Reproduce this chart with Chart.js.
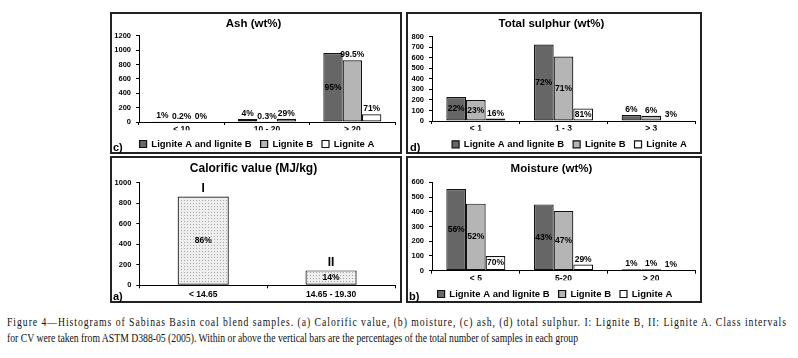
<!DOCTYPE html>
<html>
<head>
<meta charset="utf-8">
<script src="https://cdn.jsdelivr.net/npm/chart.js@4.4.1/dist/chart.umd.min.js"></script>
<style>
  body { margin: 0; background: #fff; width: 798px; height: 358px; position: relative; overflow: hidden; }
  .panel { position: absolute; border: 2px solid #222; box-sizing: border-box; background: #fff; }
  .inner { position: absolute; left: 0; top: 0; overflow: hidden; }
  .inner canvas { display: block; }
  .tag { position: absolute; font: bold 11px "Liberation Sans", Arial, sans-serif; color: #000; line-height: 12px; }
  .cap { position: absolute; left: 7px; font-family: "Liberation Serif", "DejaVu Serif", serif; font-size: 11.5px; white-space: nowrap; color: #111; line-height: 14px; transform-origin: 0 0; }
</style>
</head>
<body>

<div class="panel" style="left:110px; top:12px; width:292px; height:142px;">
  <div class="inner" style="width:288px; height:138px;"><canvas id="ashChart"></canvas></div>
  <div class="tag" style="left:1px; top:127px;">c)</div>
</div>
<div class="panel" style="left:406px; top:12px; width:296px; height:142px;">
  <div class="inner" style="width:292px; height:138px;"><canvas id="sulphurChart"></canvas></div>
  <div class="tag" style="left:2px; top:127px;">d)</div>
</div>
<div class="panel" style="left:110px; top:156px; width:292px; height:147px;">
  <div class="inner" style="width:288px; height:143px;"><canvas id="cvChart"></canvas></div>
  <div class="tag" style="left:1px; top:132px;">a)</div>
</div>
<div class="panel" style="left:406px; top:156px; width:296px; height:147px;">
  <div class="inner" style="width:292px; height:143px;"><canvas id="moistureChart"></canvas></div>
  <div class="tag" style="left:1px; top:132px;">b)</div>
</div>

<div class="cap" id="cap1" style="top:315px;">Figure 4—Histograms of Sabinas Basin coal blend samples. (a) Calorific value, (b) moisture, (c) ash, (d) total sulphur. I: Lignite B, II: Lignite A. Class intervals</div>
<div class="cap" id="cap2" style="top:331px;">for CV were taken from ASTM D388-05 (2005). Within or above the vertical bars are the percentages of the total number of samples in each group</div>

<script>
// series names
const seriesNames = ['Lignite A and lignite B', 'Lignite B', 'Lignite A'];

// Ash (wt%)
const ashCategories = ['< 10', '10 - 20', '> 20'];
const ashAB = [10, 40, 960];
const ashB = [2, 3, 857];
const ashA = [0, 44, 108];
const ashPctAB = ['1%', '4%', '95%'];
const ashPctB = ['0.2%', '0.3%', '99.5%'];
const ashPctA = ['0%', '29%', '71%'];

// Total sulphur (wt%)
const sulphurCategories = ['< 1', '1 - 3', '> 3'];
const sulphurAB = [228, 725, 57];
const sulphurB = [200, 612, 50];
const sulphurA = [24, 118, 8];
const sulphurPctAB = ['22%', '72%', '6%'];
const sulphurPctB = ['23%', '71%', '6%'];
const sulphurPctA = ['16%', '81%', '3%'];

// Calorific value (MJ/kg)
const cvCategories = ['< 14.65', '14.65 - 19.30'];
const cvValues = [865, 145];
const cvPct = ['86%', '14%'];
const cvClasses = ['I', 'II'];

// Moisture (wt%)
const moistureCategories = ['< 5', '5-20', '> 20'];
const moistureAB = [555, 450, 10];
const moistureB = [455, 405, 9];
const moistureA = [100, 42, 3];
const moisturePctAB = ['56%', '43%', '1%'];
const moisturePctB = ['52%', '47%', '1%'];
const moisturePctA = ['70%', '29%', '1%'];

const FONT = '"Liberation Sans", Arial, sans-serif';
Chart.defaults.font.family = FONT;
Chart.defaults.color = '#000';

const fills = ['#666666', '#b5b5b5', '#ffffff'];
const LEG_FONT = 9.5, LEG_PAD = 9, LEG_H = LEG_FONT + LEG_PAD + 10;

// % labels: inside = middle of the bar, otherwise just above it
function pctPlugin() {
  return {
    id: 'barLabels',
    afterDatasetsDraw(chart) {
      const ctx = chart.ctx;
      ctx.save();
      ctx.fillStyle = '#000';
      ctx.textAlign = 'center';
      chart.data.datasets.forEach((ds, di) => {
        const meta = chart.getDatasetMeta(di);
        meta.data.forEach((bar, i) => {
          ctx.font = 'bold 8.5px ' + FONT;
          if (ds.inside[i]) {
            ctx.textBaseline = 'middle';
            ctx.fillText(ds.pct[i], bar.x, (bar.y + bar.base) / 2);
          } else {
            ctx.textBaseline = 'bottom';
            ctx.fillText(ds.pct[i], bar.x, bar.y - 1);
          }
          if (ds.classes) {
            ctx.font = 'bold 12px ' + FONT;
            ctx.textBaseline = 'bottom';
            ctx.fillText(ds.classes[i], bar.x, bar.y - 2);
          }
        });
      });
      ctx.restore();
    }
  };
}

const legendShift = {
  id: 'legendShift',
  afterLayout(chart, args, opts) {
    if (chart.legend && opts.dx) {
      chart.legend.left += opts.dx;
      chart.legend.right += opts.dx;
    }
  }
};

function dotPattern() {
  const c = document.createElement('canvas');
  c.width = 3; c.height = 3;
  const g = c.getContext('2d');
  g.fillStyle = '#eeeeee';
  g.fillRect(0, 0, 3, 3);
  g.fillStyle = '#a8a8a8';
  g.fillRect(0, 0, 1, 1);
  return g.createPattern(c, 'repeat');
}

function makeChart(id, o) {
  const canvas = document.getElementById(id);
  const lh = o.titleSize * 1.2;
  let canvasH, xAxisH, padBottom;
  if (o.legend) {
    const legendTop = o.legendY - LEG_PAD - LEG_FONT / 2;
    xAxisH = legendTop - o.plotBottom;
    canvasH = Math.ceil(legendTop + LEG_H);
    padBottom = canvasH - (legendTop + LEG_H);
  } else {
    canvasH = o.innerH;
    xAxisH = o.innerH - o.plotBottom;
    padBottom = 0;
  }
  canvas.width = o.width;
  canvas.height = canvasH;

  return new Chart(canvas, {
    type: 'bar',
    data: { labels: o.categories, datasets: o.datasets },
    options: {
      responsive: false,
      animation: false,
      layout: { padding: { left: 0, right: o.rightPad, top: 0, bottom: padBottom } },
      datasets: {
        bar: { categoryPercentage: o.catPct, barPercentage: 1, borderWidth: 1.2, borderColor: '#111', borderSkipped: false }
      },
      plugins: {
        title: {
          display: true, text: o.title, color: '#000',
          font: { size: o.titleSize, weight: 'bold' },
          padding: { top: o.titleY - lh / 2, bottom: o.plotTop - o.titleY - lh / 2 }
        },
        legend: {
          display: o.legend, position: 'bottom',
          labels: { boxWidth: 7, boxHeight: 7, padding: LEG_PAD, color: '#000', font: { size: LEG_FONT, weight: 'bold' } }
        },
        tooltip: { enabled: false },
        legendShift: { dx: o.legendDx || 0 }
      },
      scales: {
        x: {
          grid: { display: true, drawOnChartArea: false, drawTicks: true, tickLength: 3, color: '#000', offset: true },
          border: { display: true, color: '#000', width: 1 },
          ticks: { padding: o.xPad, maxRotation: 0, autoSkip: false, font: { size: 8.5, weight: 'bold' }, color: '#000' },
          afterFit: s => { s.height = xAxisH; }
        },
        y: {
          min: 0, max: o.yMax,
          grid: { display: true, drawOnChartArea: false, drawTicks: true, tickLength: 3, color: '#000' },
          border: { display: true, color: '#000', width: 1 },
          ticks: {
            stepSize: o.yStep, autoSkip: false, padding: 5, color: '#000',
            font: { size: 7.5, weight: 'bold' },
            callback: v => String(v)
          },
          afterFit: s => { s.width = o.yAxisW; }
        }
      }
    },
    plugins: [pctPlugin(), legendShift]
  });
}

function threeSeries(ab, b, a, pab, pb, pa, inside) {
  const vals = [ab, b, a], pcts = [pab, pb, pa];
  return vals.map((v, k) => ({
    label: seriesNames[k], data: v, backgroundColor: fills[k],
    pct: pcts[k], inside: inside[k]
  }));
}

makeChart('ashChart', {
  title: 'Ash (wt%)', titleSize: 11.5, titleY: 10, plotTop: 21.7, plotBottom: 108,
  legend: true, legendY: 130, legendDx: 3.5, width: 288, rightPad: 5, yAxisW: 27, xPad: 0,
  yMax: 1200, yStep: 200, catPct: 0.68, categories: ashCategories,
  datasets: threeSeries(ashAB, ashB, ashA, ashPctAB, ashPctB, ashPctA,
    [[false, false, true], [false, false, false], [false, false, false]])
});

makeChart('sulphurChart', {
  title: 'Total sulphur (wt%)', titleSize: 11.5, titleY: 10, plotTop: 22.7, plotBottom: 107,
  legend: true, legendY: 130.3, legendDx: 18, width: 292, rightPad: 5, yAxisW: 24, xPad: 0,
  yMax: 800, yStep: 100, catPct: 0.673, categories: sulphurCategories,
  datasets: threeSeries(sulphurAB, sulphurB, sulphurA, sulphurPctAB, sulphurPctB, sulphurPctA,
    [[true, true, false], [true, true, false], [false, true, false]])
});

makeChart('cvChart', {
  title: 'Calorific value (MJ/kg)', titleSize: 12, titleY: 11, plotTop: 24.7, plotBottom: 127.3,
  legend: false, innerH: 143, width: 288, rightPad: 5, yAxisW: 27.3, xPad: 1,
  yMax: 1000, yStep: 200, catPct: 0.4, categories: cvCategories,
  datasets: [{
    label: 'CV', data: cvValues, backgroundColor: dotPattern(),
    pct: cvPct, inside: [true, true], classes: cvClasses
  }]
});

makeChart('moistureChart', {
  title: 'Moisture (wt%)', titleSize: 11.5, titleY: 11, plotTop: 24.3, plotBottom: 112.7,
  legend: true, legendY: 136, legendDx: 3.5, width: 292, rightPad: 5, yAxisW: 24, xPad: 0,
  yMax: 600, yStep: 100, catPct: 0.673, categories: moistureCategories,
  datasets: threeSeries(moistureAB, moistureB, moistureA, moisturePctAB, moisturePctB, moisturePctA,
    [[true, true, false], [true, true, false], [true, false, false]])
});

// caption: the face in the figure is narrower than Liberation Serif, so squeeze it;
// the last line sets the squeeze, the first line is spread to the full width
const cap1 = document.getElementById('cap1');
const cap2 = document.getElementById('cap2');
const squeeze = 571 / cap2.getBoundingClientRect().width;
cap2.style.transform = 'scaleX(' + squeeze.toFixed(4) + ')';
const chars1 = cap1.textContent.length;
const track = (780 / squeeze - cap1.getBoundingClientRect().width) / chars1;
cap1.style.letterSpacing = track.toFixed(3) + 'px';
cap1.style.transform = 'scaleX(' + squeeze.toFixed(4) + ')';
</script>
</body>
</html>
